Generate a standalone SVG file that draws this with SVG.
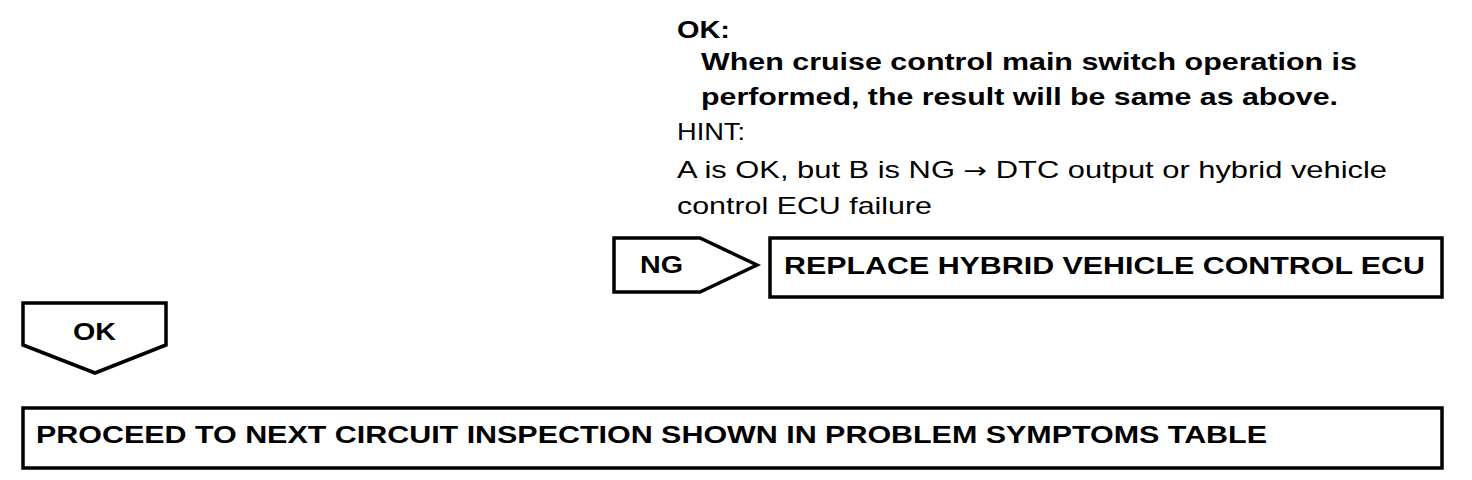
<svg xmlns="http://www.w3.org/2000/svg" width="1472" height="480" viewBox="0 0 1472 480">
<style>
.s{fill:#fff;stroke:#000;stroke-width:3.5}
.b{font-family:"Liberation Sans",Arial,sans-serif;font-weight:bold;font-size:24px;fill:#000}
.r{font-family:"Liberation Sans",Arial,sans-serif;font-size:24px;fill:#000}
</style>
<rect width="1472" height="480" fill="#fff"/>
<g id="note">
<text class="b" x="677" y="38" textLength="53" lengthAdjust="spacingAndGlyphs">OK:</text>
<text class="b" x="701" y="70" textLength="656" lengthAdjust="spacingAndGlyphs">When cruise control main switch operation is</text>
<text class="b" x="701" y="105" textLength="637" lengthAdjust="spacingAndGlyphs">performed, the result will be same as above.</text>
<text class="r" x="677" y="140" textLength="68" lengthAdjust="spacingAndGlyphs">HINT:</text>
<text class="r" x="677" y="178" textLength="710" lengthAdjust="spacingAndGlyphs">A is OK, but B is NG <tspan font-family="DejaVu Sans" font-size="22">→</tspan> DTC output or hybrid vehicle</text>
<text class="r" x="677" y="214" textLength="255" lengthAdjust="spacingAndGlyphs">control ECU failure</text>
</g>
<g id="connectors">
<g id="ng-label">
<polygon class="s" points="614,238 700,238 757,265 700,292 614,292"/>
<text class="b" x="640" y="273" textLength="43" lengthAdjust="spacingAndGlyphs">NG</text>
</g>
<g id="ok-label">
<polygon class="s" points="23,303 166,303 166,345 95,373 23,345"/>
<text class="b" x="73" y="340" textLength="43" lengthAdjust="spacingAndGlyphs">OK</text>
</g>
</g>
<g id="replace">
<rect class="s" x="770" y="238" width="672" height="59"/>
<text class="b" x="784" y="274" textLength="641" lengthAdjust="spacingAndGlyphs">REPLACE HYBRID VEHICLE CONTROL ECU</text>
</g>
<g id="proceed">
<rect class="s" x="23" y="408" width="1419" height="60"/>
<text class="b" x="36" y="443" textLength="1231" lengthAdjust="spacingAndGlyphs">PROCEED TO NEXT CIRCUIT INSPECTION SHOWN IN PROBLEM SYMPTOMS TABLE</text>
</g>
</svg>
